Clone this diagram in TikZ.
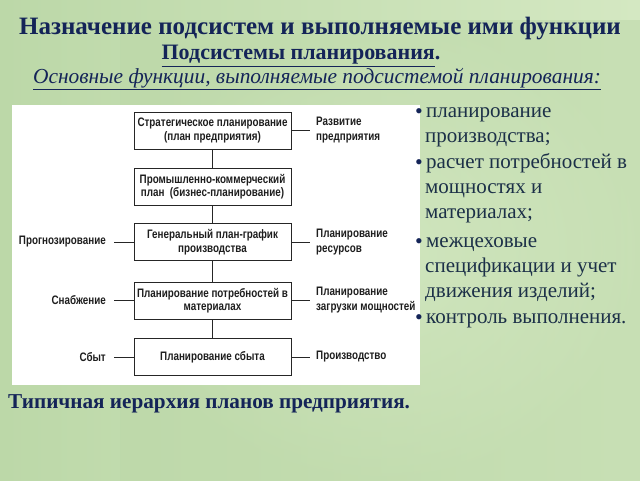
\documentclass[tikz,border=0pt]{standalone}
\usepackage{fontspec}
\setmainfont{Liberation Serif}
\newfontfamily\diagfont[FakeStretch=0.8]{Liberation Sans}
\definecolor{bgA}{RGB}{188,216,168}
\definecolor{bgB}{RGB}{212,232,194}
\definecolor{navy}{RGB}{20,36,88}
\definecolor{listcol}{RGB}{28,48,72}
\definecolor{diagtext}{RGB}{30,30,30}
\begin{document}
\begin{tikzpicture}[x=1pt,y=-1pt,
  box/.style={draw=black!85, line width=0.9pt, minimum width=157pt, minimum height=37pt,
    inner sep=0pt, align=center, text=diagtext, font=\diagfont\bfseries\fontsize{12.3}{13.5}\selectfont},
  rlab/.style={anchor=west, inner xsep=6pt, inner ysep=0pt, align=left, text=diagtext,
    font=\diagfont\bfseries\fontsize{12.3}{15}\selectfont},
  llab/.style={anchor=east, inner xsep=8pt, inner ysep=0pt, align=right, text=diagtext,
    font=\diagfont\bfseries\fontsize{12.3}{15}\selectfont},
  conn/.style={draw=black!85, line width=0.9pt},
  li/.style={anchor=base west, inner sep=0pt, text=listcol, font=\fontsize{21}{25}\selectfont},
  bul/.style={anchor=base west, inner sep=0pt, text=navy, font=\fontsize{22}{22}\selectfont}
]
\useasboundingbox (0,0) rectangle (640,480);
\shade[left color=bgA, right color=bgB] (0,0) rectangle (640,480);
\shade[inner color=bgB, outer color=bgA, opacity=0.5] (120,20) rectangle (640,480);

% titles
\node[inner sep=0pt, text=navy, font=\bfseries\fontsize{25}{28}\selectfont] (title) at (320,29) {Назначение подсистем и выполняемые ими функции};
\node[inner sep=0pt, text=navy, font=\bfseries\fontsize{22}{24}\selectfont] (sub) at (301,56) {\underline{Подсистемы планирования}.};
\node[inner sep=0pt, text=navy, font=\itshape\fontsize{21.4}{24}\selectfont] (sub2) at (317,79) {\underline{Основные функции, выполняемые подсистемой планирования:}};

% white panel
\fill[white] (12,105) rectangle (420,385);

% boxes
\node[box] (b1) at (212.5,130.5) {Стратегическое планирование\\(план предприятия)};
\node[box] (b2) at (212.5,186.5) {Промышленно-коммерческий\\план~~(бизнес-планирование)};
\node[box] (b3) at (212.5,242) {Генеральный план-график\\производства};
\node[box] (b4) at (212.5,300.5) {Планирование потребностей в\\материалах\hspace{44pt}};
\node[box] (b5) at (212.5,357) {Планирование сбыта};

\draw[conn] (b1) -- (b2);
\draw[conn] (b2) -- (b3);
\draw[conn] (b3) -- (b4);
\draw[conn] (b4) -- (b5);

% right labels
\node[rlab] (r1) at (310,130.5) {Развитие\\предприятия};
\node[rlab] (r3) at (310,242) {Планирование\\ресурсов};
\node[rlab] (r4) at (310,300.5) {Планирование\\загрузки мощностей};
\node[rlab] (r5) at (310,357) {Производство};
\draw[conn] (b1.east) -- (r1.west);
\draw[conn] (b3.east) -- (r3.west);
\draw[conn] (b4.east) -- (r4.west);
\draw[conn] (b5.east) -- (r5.west);

% left labels
\node[llab] (l3) at (114,242) {Прогнозирование};
\node[llab] (l4) at (114,300.5) {Снабжение};
\node[llab] (l5) at (114,357) {Сбыт};
\draw[conn] (l3.east) -- (b3.west);
\draw[conn] (l4.east) -- (b4.west);
\draw[conn] (l5.east) -- (b5.west);

% list
\node[bul] (d1) at (415,118) {•};
\node[li] (t1) at (426,117) {планирование};
\node[li] (t2) at (425,142) {производства;};
\node[bul] (d3) at (415,169) {•};
\node[li] (t3) at (426,168) {расчет потребностей в};
\node[li] (t4) at (425,193) {мощностях и};
\node[li] (t5) at (425,218) {материалах;};
\node[bul] (d6) at (415,248) {•};
\node[li] (t6) at (426,247) {межцеховые};
\node[li] (t7) at (425,272) {спецификации и учет};
\node[li] (t8) at (425,297) {движения изделий;};
\node[bul] (d9) at (415,324) {•};
\node[li] (t9) at (426,323) {контроль выполнения.};

% caption
\node[anchor=west, inner sep=0pt, text=navy, font=\bfseries\fontsize{21.2}{24}\selectfont] (cap) at (8,404) {Типичная иерархия планов предприятия.};
\end{tikzpicture}
\end{document}
